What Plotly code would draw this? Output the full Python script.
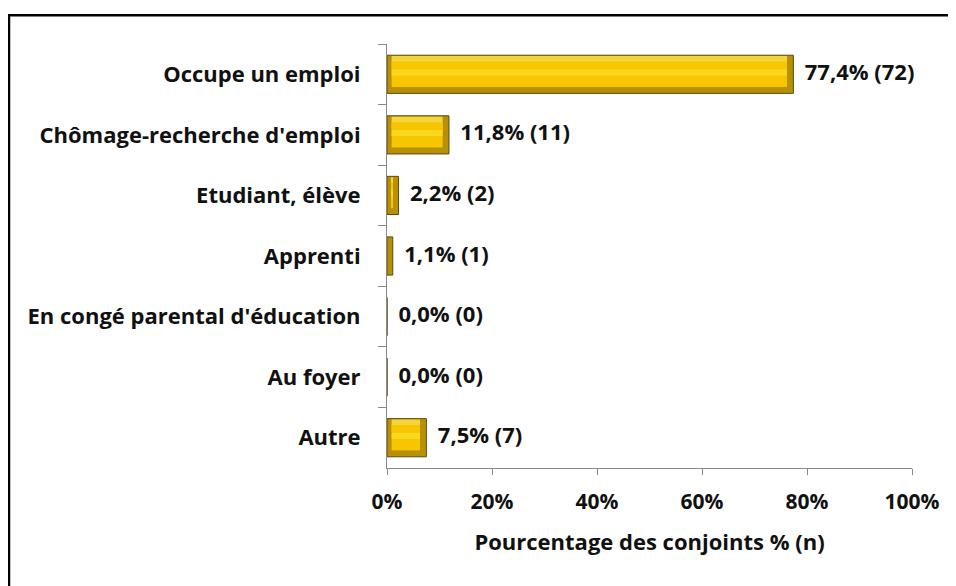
import plotly.graph_objects as go

categories = ["Occupe un emploi", "Chômage-recherche d'emploi", "Etudiant, élève",
              "Apprenti", "En congé parental d'éducation", "Au foyer", "Autre"]
percents = [77.4, 11.8, 2.2, 1.1, 0.0, 0.0, 7.5]
counts = [72, 11, 2, 1, 0, 0, 7]
tick_vals = [0, 20, 40, 60, 80, 100]
tick_text = ["0%", "20%", "40%", "60%", "80%", "100%"]

labels = ["  " + f"{p:.1f}".replace(".", ",") + "% (" + str(n) + ")" for p, n in zip(percents, counts)]

# bevel size in axis units (approx 6px)
bev = 1.1
face_base = [min(bev * 0.8, p / 2) for p in percents]
face_len = [max(p - bev * 1.9, 0) for p in percents]

FONT = "Open Sans"
bold = dict(family=FONT, size=22, color="#111111", weight="bold")

fig = go.Figure()

# dark outer body of the bevelled bar
fig.add_trace(go.Bar(y=categories, x=percents, orientation="h", width=0.63,
                     marker=dict(color="#B89008", line=dict(color="#5c4a0c", width=1)),
                     hoverinfo="skip", showlegend=False))
# lighter top edge
fig.add_trace(go.Bar(y=categories, x=face_len, base=face_base, orientation="h",
                     width=0.2, offset=-0.3,
                     marker=dict(color="#F4D63C", line=dict(width=0)),
                     hoverinfo="skip", showlegend=False))
# main face
fig.add_trace(go.Bar(y=categories, x=face_len, base=face_base, orientation="h",
                     width=0.42, offset=-0.21,
                     marker=dict(color="#F8C600", line=dict(width=0)),
                     hoverinfo="skip", showlegend=False))
# shine stripe
fig.add_trace(go.Bar(y=categories, x=face_len, base=face_base, orientation="h",
                     width=0.1, offset=-0.08,
                     marker=dict(color="#FAD820", line=dict(width=0)),
                     hoverinfo="skip", showlegend=False))

# value labels
fig.add_trace(go.Scatter(y=categories, x=percents, mode="text", text=labels,
                         textposition="middle right", cliponaxis=False,
                         textfont=bold, hoverinfo="skip", showlegend=False))

fig.update_layout(
    barmode="overlay",
    width=956, height=586,
    margin=dict(l=379, r=52, t=36, b=126),
    paper_bgcolor="white", plot_bgcolor="white",
    font=dict(family=FONT, size=22, color="#111111"),
    shapes=[dict(type="rect", xref="paper", yref="paper",
                 x0=-0.72, x1=1.3, y0=-0.5, y1=1.068,
                 line=dict(color="black", width=2.5), layer="below")],
)

fig.update_xaxes(range=[0, 100], tickvals=tick_vals, ticktext=tick_text,
                 showgrid=False, zeroline=False, showline=True, linecolor="#888888",
                 ticks="outside", ticklen=6, tickcolor="#888888", ticklabelstandoff=9,
                 tickfont=dict(family=FONT, size=21, color="#111111", weight="bold"),
                 title=dict(text="Pourcentage des conjoints % (n)", standoff=20, font=bold))
fig.update_yaxes(autorange="reversed", showgrid=False, zeroline=False, showline=True,
                 linecolor="#888888", ticks="outside", ticklen=8, tickcolor="#888888",
                 tickson="boundaries", ticklabelstandoff=21, tickfont=bold)

fig.write_html("out.html")
